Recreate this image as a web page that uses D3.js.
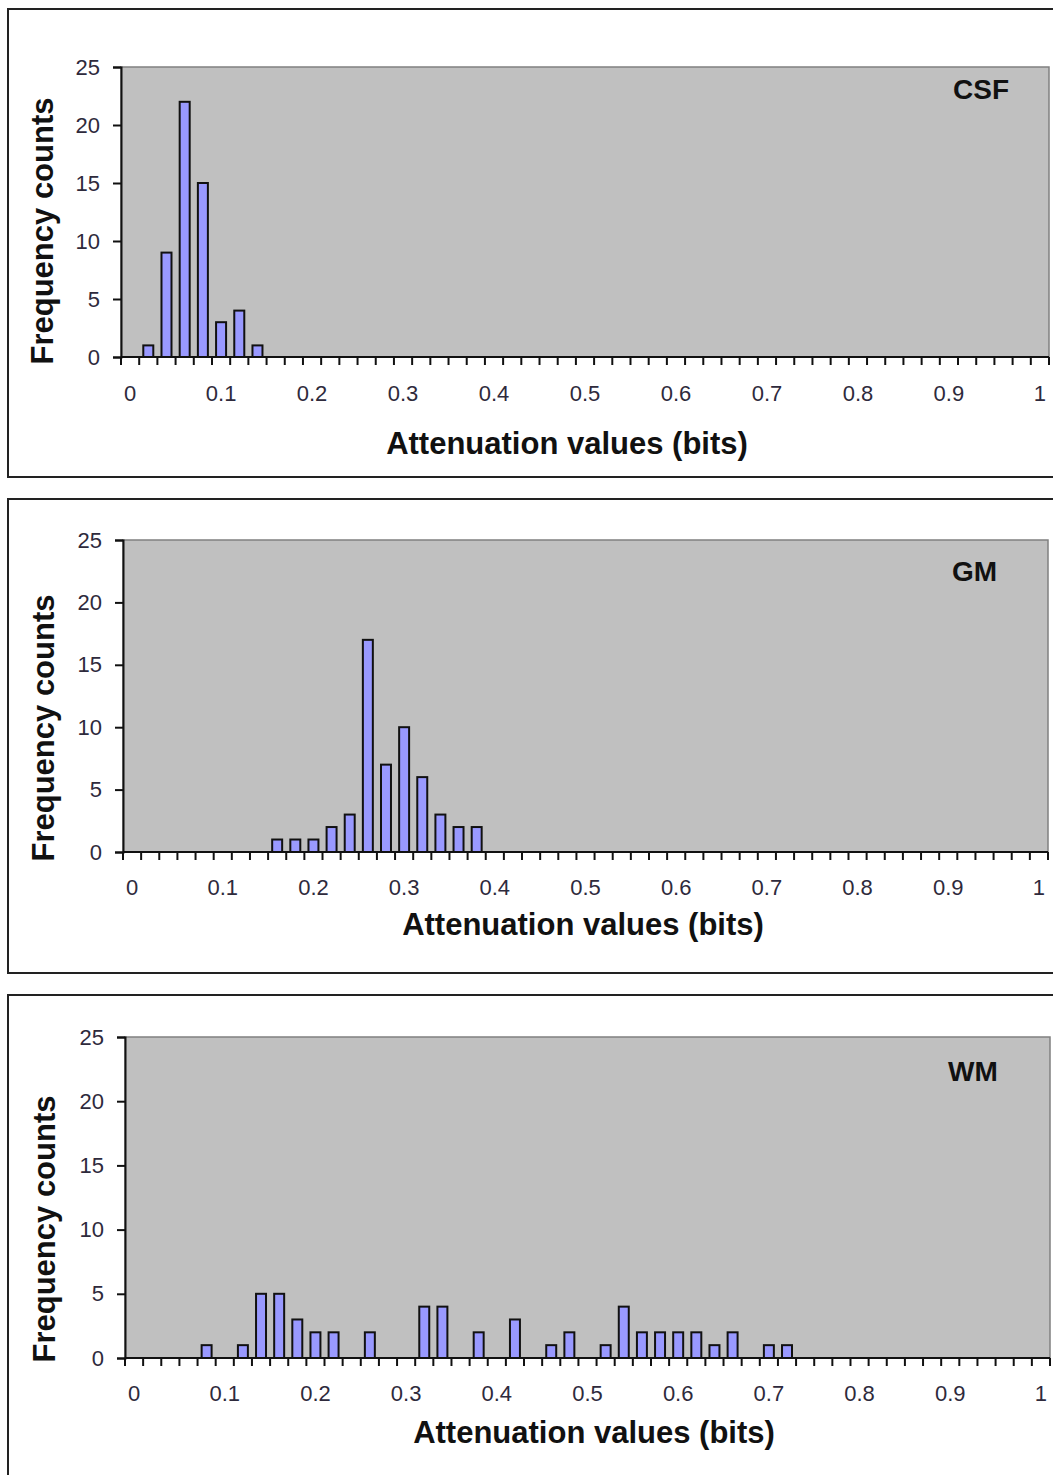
<!DOCTYPE html>
<html>
<head>
<meta charset="utf-8">
<script src="https://cdn.jsdelivr.net/npm/d3@7"></script>
<style>
  html, body { margin: 0; padding: 0; background: #fff; }
  svg { display: block; }
  text { font-family: "Liberation Sans", Arial, sans-serif; }
</style>
</head>
<body>
<svg id="chart" width="1053" height="1475"></svg>
<script>
// ---- Data ----
const categories = [
  "0","0.02","0.04","0.06","0.08","0.1","0.12","0.14","0.16","0.18",
  "0.2","0.22","0.24","0.26","0.28","0.3","0.32","0.34","0.36","0.38",
  "0.4","0.42","0.44","0.46","0.48","0.5","0.52","0.54","0.56","0.58",
  "0.6","0.62","0.64","0.66","0.68","0.7","0.72","0.74","0.76","0.78",
  "0.8","0.82","0.84","0.86","0.88","0.9","0.92","0.94","0.96","0.98","1"
];
const xTickLabels = ["0","0.1","0.2","0.3","0.4","0.5","0.6","0.7","0.8","0.9","1"];
const yTicks = [0, 5, 10, 15, 20, 25];

const csfCounts = [
  0,1,9,22,15,3,4,1,0,0,
  0,0,0,0,0,0,0,0,0,0,
  0,0,0,0,0,0,0,0,0,0,
  0,0,0,0,0,0,0,0,0,0,
  0,0,0,0,0,0,0,0,0,0,0
];
const gmCounts = [
  0,0,0,0,0,0,0,0,1,1,
  1,2,3,17,7,10,6,3,2,2,
  0,0,0,0,0,0,0,0,0,0,
  0,0,0,0,0,0,0,0,0,0,
  0,0,0,0,0,0,0,0,0,0,0
];
const wmCounts = [
  0,0,0,0,1,0,1,5,5,3,
  2,2,0,2,0,0,4,4,0,2,
  0,3,0,1,2,0,1,4,2,2,
  2,2,1,2,0,1,1,0,0,0,
  0,0,0,0,0,0,0,0,0,0,0
];
const panelNames = ["CSF", "GM", "WM"];
const xTitle = "Attenuation values (bits)";
const yTitle = "Frequency counts";

// ---- Layout ----
const panels = [
  { name: panelNames[0], counts: csfCounts,
    frame: {x: 8, y: 9, h: 468},
    plot: {x0: 121, x1: 1049, y0: 67, y1: 357},
    tickLabelDy: 44, xTitleX: 567, xTitleDy: 97,
    yTitleX: 53, yTitleY: 231, titleX: 953, titleY: 99 },
  { name: panelNames[1], counts: gmCounts,
    frame: {x: 8, y: 499, h: 474},
    plot: {x0: 123, x1: 1048, y0: 540, y1: 852},
    tickLabelDy: 43, xTitleX: 583, xTitleDy: 83,
    yTitleX: 54, yTitleY: 728, titleX: 952, titleY: 581 },
  { name: panelNames[2], counts: wmCounts,
    frame: {x: 8, y: 995, h: 520},
    plot: {x0: 125, x1: 1050, y0: 1037, y1: 1358},
    tickLabelDy: 43, xTitleX: 594, xTitleDy: 85,
    yTitleX: 55, yTitleY: 1229, titleX: 948, titleY: 1081 }
];

const svg = d3.select("#chart");
svg.append("rect").attr("width", 1053).attr("height", 1475).attr("fill", "#fff");

const labelColor = "#2e2a3c";

panels.forEach(p => {
  const g = svg.append("g");
  // outer frame
  g.append("rect")
    .attr("x", p.frame.x).attr("y", p.frame.y)
    .attr("width", 1100).attr("height", p.frame.h)
    .attr("fill", "none").attr("stroke", "#222").attr("stroke-width", 2);

  const x = d3.scaleBand().domain(categories)
    .range([p.plot.x0, p.plot.x1]).paddingInner(0.45).paddingOuter(0.225);
  const xCat = d3.scaleBand().domain(categories).range([p.plot.x0, p.plot.x1]);
  const y = d3.scaleLinear().domain([0, 25]).range([p.plot.y1, p.plot.y0]);

  // plot area
  g.append("rect")
    .attr("x", p.plot.x0).attr("y", p.plot.y0)
    .attr("width", p.plot.x1 - p.plot.x0).attr("height", p.plot.y1 - p.plot.y0)
    .attr("fill", "#c0c0c0").attr("stroke", "#808080").attr("stroke-width", 1.5);

  // bars
  const data = categories.map((c, i) => ({c, v: p.counts[i]})).filter(d => d.v > 0);
  g.selectAll("rect.bar").data(data).enter().append("rect")
    .attr("class", "bar")
    .attr("x", d => x(d.c)).attr("width", x.bandwidth())
    .attr("y", d => y(d.v)).attr("height", d => y(0) - y(d.v))
    .attr("fill", "#9999ff").attr("stroke", "#111").attr("stroke-width", 2);

  // y axis
  const yAxis = d3.axisLeft(y).tickValues(yTicks).tickSize(8).tickPadding(13);
  const ya = g.append("g").attr("transform", `translate(${p.plot.x0},0)`).call(yAxis);
  ya.select(".domain").attr("stroke", "#111").attr("stroke-width", 2);
  ya.selectAll(".tick line").attr("stroke", "#111").attr("stroke-width", 2);
  ya.selectAll(".tick text").attr("font-size", 22).attr("fill", labelColor)
    .attr("font-family", "Liberation Sans, Arial, sans-serif");

  // x axis: tick marks at category boundaries
  const bounds = categories.map(c => xCat(c)).concat([p.plot.x1]);
  g.append("line")
    .attr("x1", p.plot.x0).attr("x2", p.plot.x1)
    .attr("y1", p.plot.y1).attr("y2", p.plot.y1)
    .attr("stroke", "#111").attr("stroke-width", 2);
  g.selectAll("line.xt").data(bounds).enter().append("line")
    .attr("class", "xt")
    .attr("x1", d => d).attr("x2", d => d)
    .attr("y1", p.plot.y1).attr("y2", p.plot.y1 + 8)
    .attr("stroke", "#111").attr("stroke-width", 2);
  g.selectAll("text.xl").data(xTickLabels).enter().append("text")
    .attr("class", "xl")
    .attr("x", d => xCat(d) + xCat.bandwidth() / 2)
    .attr("y", p.plot.y1 + p.tickLabelDy)
    .attr("text-anchor", "middle").attr("font-size", 22).attr("fill", labelColor)
    .text(d => d);

  // titles
  g.append("text")
    .attr("x", p.xTitleX).attr("y", p.plot.y1 + p.xTitleDy)
    .attr("text-anchor", "middle").attr("font-size", 31).attr("font-weight", "bold")
    .attr("fill", "#111").text(xTitle);
  g.append("text")
    .attr("transform", `translate(${p.yTitleX},${p.yTitleY}) rotate(-90)`)
    .attr("text-anchor", "middle").attr("font-size", 31).attr("font-weight", "bold")
    .attr("fill", "#111").text(yTitle);
  g.append("text")
    .attr("x", p.titleX).attr("y", p.titleY)
    .attr("font-size", 28).attr("font-weight", "bold").attr("fill", "#111")
    .text(p.name);
});
</script>
</body>
</html>
